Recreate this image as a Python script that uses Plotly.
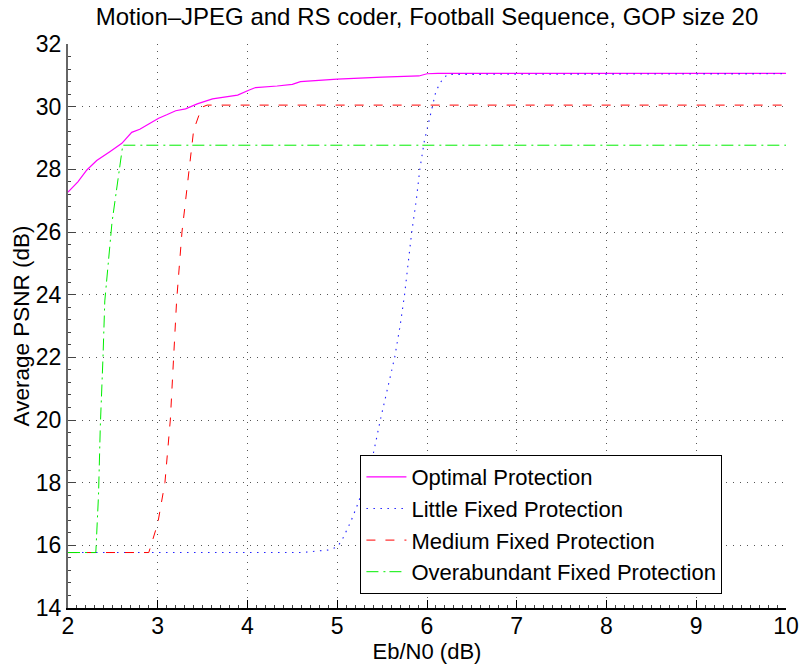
import plotly.graph_objects as go

# ---- data ----
opt_x = [2.0, 2.11, 2.21, 2.32, 2.47, 2.6, 2.71, 2.8, 2.9, 3.01, 3.1, 3.2, 3.31, 3.44, 3.61, 3.74,
         3.89, 4.02, 4.09, 4.33, 4.5, 4.59, 5.0, 5.5, 5.91, 6.0, 6.12, 10.0]
opt_y = [27.27, 27.6, 27.98, 28.28, 28.57, 28.83, 29.18, 29.28, 29.45, 29.63, 29.74, 29.87, 29.93,
         30.09, 30.25, 30.30, 30.37, 30.53, 30.61, 30.66, 30.71, 30.80, 30.88, 30.94, 30.98, 31.05,
         31.06, 31.06]

little_x = [2.0, 4.6, 4.9, 5.0, 5.05, 5.15, 5.24, 5.33, 5.40, 5.48, 5.56, 5.64, 5.70, 5.75, 5.79,
            5.83, 5.88, 5.92, 5.97, 6.03, 6.06, 6.10, 6.17, 6.23, 10.0]
little_y = [15.77, 15.77, 15.85, 15.95, 16.15, 16.75, 17.4, 18.2, 18.9, 20.0, 21.0, 22.0, 23.0,
            24.0, 25.0, 26.0, 27.0, 28.0, 28.9, 29.6, 30.0, 30.5, 30.87, 31.03, 31.05]

med_x = [2.0, 2.9, 3.0, 3.08, 3.14, 3.18, 3.21, 3.27, 3.34, 3.40, 3.49, 3.55, 10.0]
med_y = [15.77, 15.77, 16.7, 18.0, 20.0, 22.0, 23.8, 26.0, 27.8, 29.25, 29.98, 30.05, 30.05]

over_x = [2.0, 2.31, 2.34, 2.36, 2.39, 2.41, 2.49, 2.54, 2.58, 2.61, 10.0]
over_y = [15.77, 15.77, 17.6, 19.8, 22.0, 23.8, 26.3, 27.35, 28.25, 28.77, 28.77]

series_names = ["Optimal Protection", "Little Fixed Protection",
                "Medium Fixed Protection", "Overabundant Fixed Protection"]

title_text = "Motion\u2013JPEG and RS coder, Football Sequence, GOP size 20"
x_title = "Eb/N0 (dB)"
y_title = "Average PSNR (dB)"

FONT = "Liberation Sans, Arial, Helvetica, sans-serif"

fig = go.Figure()
fig.add_trace(go.Scatter(x=opt_x, y=opt_y, mode="lines", name=series_names[0],
                         line=dict(color="#ff00ff", width=1.2)))
fig.add_trace(go.Scatter(x=little_x, y=little_y, mode="lines", name=series_names[1],
                         line=dict(color="#2222ff", width=1.1, dash="1.5px,5.5px")))
fig.add_trace(go.Scatter(x=med_x, y=med_y, mode="lines", name=series_names[2],
                         line=dict(color="#ff0000", width=1, dash="9px,10px")))
fig.add_trace(go.Scatter(x=over_x, y=over_y, mode="lines", name=series_names[3],
                         line=dict(color="#00ee00", width=1, dash="12px,5px,2px,4px")))

axis_common = dict(
    showgrid=True, gridcolor="#555555", gridwidth=1, griddash="1px,6px",
    zeroline=False, ticks="inside", ticklen=8, tickwidth=1,
    tickfont=dict(family=FONT, size=23, color="black"),
    showline=True, mirror=False, automargin=False,
)

fig.update_xaxes(range=[2, 10], dtick=1, tick0=2, linecolor="black", linewidth=1.5,
                 tickcolor="black", ticklabelstandoff=-3,
                 minor=dict(ticks="inside", ticklen=3, dtick=0.1, tickcolor="#444", showgrid=False),
                 title=dict(text=x_title, font=dict(family=FONT, size=22, color="black"), standoff=0),
                 **axis_common)
fig.update_yaxes(range=[14, 32], dtick=2, tick0=14, linecolor="#666666", linewidth=2,
                 tickcolor="#444",
                 minor=dict(ticks="inside", ticklen=3, dtick=0.4, tickcolor="#444", showgrid=False),
                 title=dict(text=y_title, font=dict(family=FONT, size=22.5, color="black"), standoff=0),
                 **axis_common)

fig.update_layout(
    width=800, height=665,
    margin=dict(l=68, r=14, t=44, b=57),
    paper_bgcolor="white", plot_bgcolor="white",
    title=dict(text=title_text, x=0.5, xref="paper", xanchor="center",
               y=1 - 17 / 665, yref="container", yanchor="middle",
               font=dict(family=FONT, size=24, color="black")),
    legend=dict(x=0.407, y=0.025, xanchor="left", yanchor="bottom",
                bordercolor="black", borderwidth=1.2, bgcolor="white",
                font=dict(family=FONT, size=22, color="black"),
                tracegroupgap=0, itemwidth=40),
    showlegend=True,
)

fig.write_html("out.html")
